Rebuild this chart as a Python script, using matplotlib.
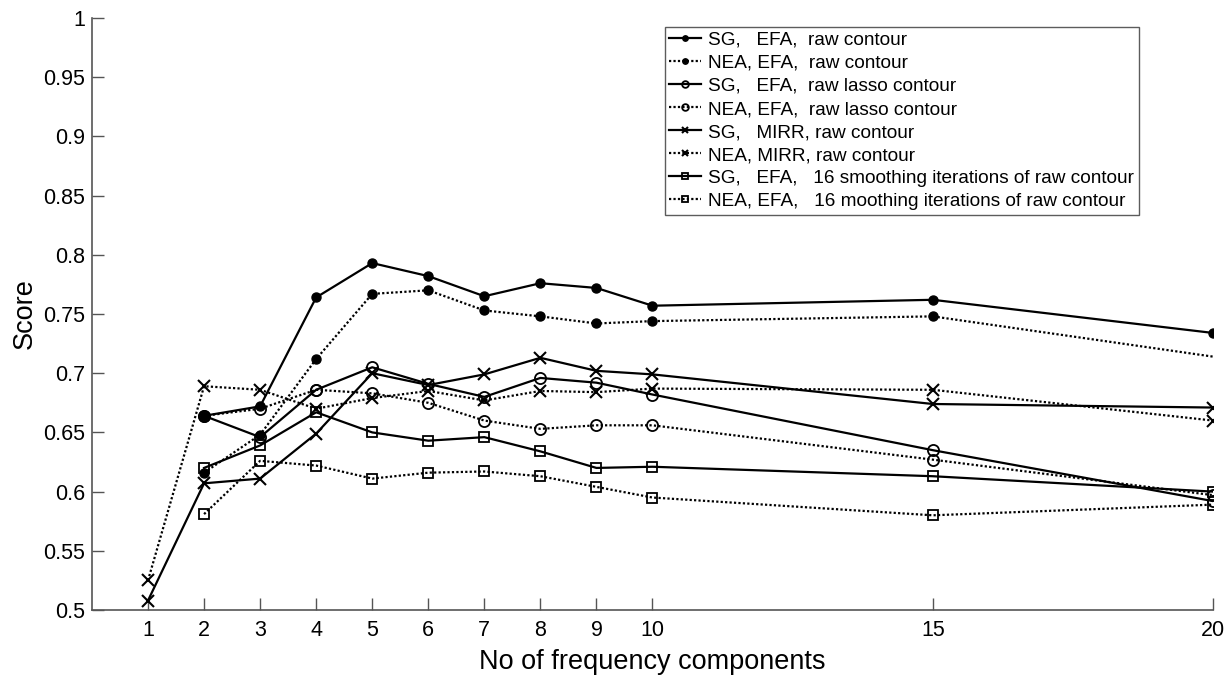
import numpy as np
import matplotlib
matplotlib.use("Agg")
import matplotlib.pyplot as plt

plt.rcParams['font.family'] = ['Liberation Sans', 'DejaVu Sans']

# x positions (number of frequency components)
n_comp_mirr = [1, 2, 3, 4, 5, 6, 7, 8, 9, 10, 15, 20]
n_comp = [2, 3, 4, 5, 6, 7, 8, 9, 10, 15, 20]

# scores
sg_efa_raw = [0.664, 0.672, 0.764, 0.793, 0.782, 0.765, 0.776, 0.772, 0.757, 0.762, 0.734]
nea_efa_raw = [0.616, 0.648, 0.712, 0.767, 0.770, 0.753, 0.748, 0.742, 0.744, 0.748, 0.714]
sg_efa_lasso = [0.664, 0.646, 0.686, 0.705, 0.691, 0.680, 0.696, 0.692, 0.682, 0.635, 0.592]
nea_efa_lasso = [0.664, 0.670, 0.686, 0.683, 0.675, 0.660, 0.653, 0.656, 0.656, 0.627, 0.597]
sg_mirr_raw = [0.508, 0.607, 0.611, 0.649, 0.700, 0.690, 0.699, 0.713, 0.702, 0.699, 0.674, 0.671]
nea_mirr_raw = [0.525, 0.689, 0.686, 0.670, 0.679, 0.685, 0.677, 0.685, 0.684, 0.687, 0.686, 0.660]
sg_efa_smooth = [0.620, 0.639, 0.667, 0.650, 0.643, 0.646, 0.634, 0.620, 0.621, 0.613, 0.600]
nea_efa_smooth = [0.581, 0.626, 0.622, 0.611, 0.616, 0.617, 0.613, 0.604, 0.595, 0.580, 0.589]

labels = [
    "SG,   EFA,  raw contour",
    "NEA, EFA,  raw contour",
    "SG,   EFA,  raw lasso contour",
    "NEA, EFA,  raw lasso contour",
    "SG,   MIRR, raw contour",
    "NEA, MIRR, raw contour",
    "SG,   EFA,   16 smoothing iterations of raw contour",
    "NEA, EFA,   16 moothing iterations of raw contour",
]

yticks = [0.5, 0.55, 0.6, 0.65, 0.7, 0.75, 0.8, 0.85, 0.9, 0.95, 1.0]
xticks = [1, 2, 3, 4, 5, 6, 7, 8, 9, 10, 15, 20]

solid = '-'
dotted = (0, (1, 1))

fig = plt.figure(figsize=(12.31, 6.76), dpi=100)
ax = fig.add_axes([0.0747, 0.0976, 0.9107, 0.8758])

kw = dict(color='black', linewidth=1.6)
ax.plot(n_comp, sg_efa_raw, linestyle=solid, marker='o', markersize=6.5,
        markerfacecolor='black', label=labels[0], **kw)
ax.plot(n_comp, nea_efa_raw, linestyle=dotted, marker='o', markersize=6.5,
        markerfacecolor='black', markevery=slice(0, 10), label=labels[1], **kw)
ax.plot(n_comp, sg_efa_lasso, linestyle=solid, marker='o', markersize=8,
        markerfacecolor='none', markeredgewidth=1.3, label=labels[2], **kw)
ax.plot(n_comp, nea_efa_lasso, linestyle=dotted, marker='o', markersize=8,
        markerfacecolor='none', markeredgewidth=1.3, label=labels[3], **kw)
ax.plot(n_comp_mirr, sg_mirr_raw, linestyle=solid, marker='x', markersize=8,
        markeredgewidth=1.5, label=labels[4], **kw)
ax.plot(n_comp_mirr, nea_mirr_raw, linestyle=dotted, marker='x', markersize=8,
        markeredgewidth=1.5, label=labels[5], **kw)
ax.plot(n_comp, sg_efa_smooth, linestyle=solid, marker='s', markersize=6.5,
        markerfacecolor='none', markeredgewidth=1.3, label=labels[6], **kw)
ax.plot(n_comp, nea_efa_smooth, linestyle=dotted, marker='s', markersize=6.5,
        markerfacecolor='none', markeredgewidth=1.3, label=labels[7], **kw)

ax.set_xlim(0, 20)
ax.set_ylim(0.5, 1.0)
ax.set_xticks(xticks)
ax.set_xticklabels([str(t) for t in xticks])
ax.set_yticks(yticks)
ax.set_yticklabels(["%g" % t for t in yticks])

for side in ['top', 'right']:
    ax.spines[side].set_visible(False)
for side in ['left', 'bottom']:
    ax.spines[side].set_color('#555555')
    ax.spines[side].set_linewidth(1.2)

ax.tick_params(axis='both', direction='in', length=8.5, width=1.0,
               color='#555555', labelsize=15.5)
ax.tick_params(axis='x', pad=7)
ax.tick_params(axis='y', pad=5)

ax.set_xlabel("No of frequency components", fontsize=19.5, labelpad=6)
ax.set_ylabel("Score", fontsize=19.5, labelpad=4)

leg = ax.legend(loc='upper right', bbox_to_anchor=(0.934, 0.985),
                fontsize=13.7, handlelength=1.65, handletextpad=0.4,
                labelspacing=0.3, borderpad=0.25, borderaxespad=0.0,
                markerscale=0.6, frameon=True, fancybox=False)
leg.get_frame().set_edgecolor('#333333')
leg.get_frame().set_linewidth(1.0)

fig.savefig("out.png", dpi=100)
